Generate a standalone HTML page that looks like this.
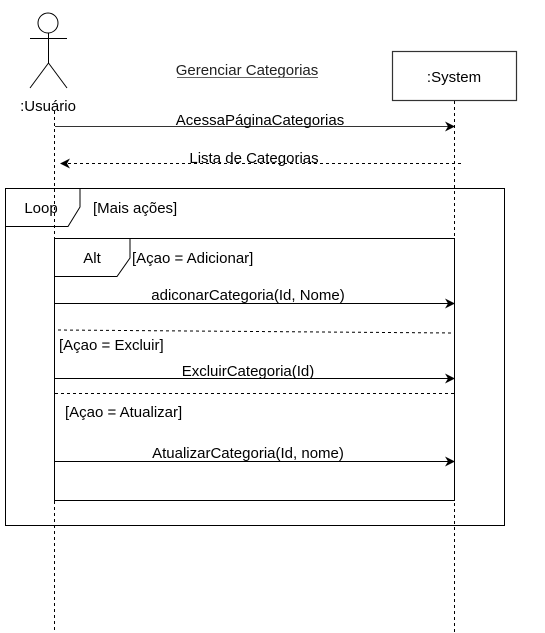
<!DOCTYPE html>
<html><head><meta charset="utf-8"><style>
html,body{margin:0;padding:0;background:#fff;}
svg{display:block;font-family:"Liberation Sans",Arial,sans-serif;font-size:15px;}
</style></head><body>
<svg width="545" height="633" viewBox="0 0 545 633" xmlns="http://www.w3.org/2000/svg">
<defs>
<marker id="a" markerWidth="10" markerHeight="10" refX="9" refY="5" orient="auto" markerUnits="userSpaceOnUse">
<path d="M0,0 L10,5 L0,10 L3,5 Z" fill="#000"/></marker>
</defs>
<rect width="545" height="633" fill="#fff"/>
<g stroke="#000" stroke-width="1" fill="none">
<circle cx="48" cy="23" r="10"/>
<line x1="30" y1="38.5" x2="67" y2="38.5"/>
<line x1="48.5" y1="33" x2="48.5" y2="63"/>
<line x1="48.5" y1="63" x2="30" y2="88"/>
<line x1="48.5" y1="63" x2="67" y2="88"/>
</g>
<text x="48" y="111" text-anchor="middle">:Usuário</text>
<text x="247" y="75" text-anchor="middle" fill="#222">Gerenciar Categorias</text>
<line x1="177" y1="77.5" x2="318" y2="77.5" stroke="#666" stroke-width="1"/>
<rect x="392.5" y="51.5" width="124" height="49" fill="#fff" stroke="#333" stroke-width="1.2"/>
<text x="454" y="82" text-anchor="middle">:System</text>
<line x1="54.5" y1="111" x2="54.5" y2="633" stroke="#000" stroke-dasharray="3,3"/>
<line x1="454.5" y1="101" x2="454.5" y2="633" stroke="#000" stroke-dasharray="3,3"/>
<line x1="55" y1="126.5" x2="454" y2="126.5" stroke="#333" marker-end="url(#a)"/>
<text x="260" y="125" text-anchor="middle">AcessaPáginaCategorias</text>
<line x1="461" y1="163.5" x2="61" y2="163.5" stroke="#000" stroke-dasharray="3,3" marker-end="url(#a)"/>
<text x="254" y="163" text-anchor="middle">Lista de Categorias</text>
<rect x="5.5" y="188.5" width="499" height="337" fill="none" stroke="#000"/>
<path d="M5.5,226.5 L68,226.5 L80,207 L80,188.5" fill="none" stroke="#000"/>
<text x="41" y="213" text-anchor="middle">Loop</text>
<text x="93" y="213">[Mais ações]</text>
<rect x="54.5" y="238.5" width="400" height="262" fill="none" stroke="#000"/>
<path d="M54.5,276.5 L117,276.5 L130,258 L130,238.5" fill="none" stroke="#000"/>
<text x="92" y="263" text-anchor="middle">Alt</text>
<text x="132" y="263">[Açao = Adicionar]</text>
<line x1="55" y1="303.5" x2="454" y2="303.5" stroke="#000" marker-end="url(#a)"/>
<text x="248" y="300" text-anchor="middle">adiconarCategoria(Id, Nome)</text>
<line x1="58" y1="330" x2="454" y2="333" stroke="#000" stroke-dasharray="3,3"/>
<text x="59" y="350">[Açao = Excluir]</text>
<line x1="55" y1="378.5" x2="454" y2="378.5" stroke="#000" marker-end="url(#a)"/>
<text x="248" y="376" text-anchor="middle">ExcluirCategoria(Id)</text>
<line x1="55" y1="393.5" x2="454" y2="393.5" stroke="#000" stroke-dasharray="3,3"/>
<text x="65" y="417">[Açao = Atualizar]</text>
<line x1="55" y1="461.5" x2="454" y2="461.5" stroke="#000" marker-end="url(#a)"/>
<text x="248" y="458" text-anchor="middle">AtualizarCategoria(Id, nome)</text>
</svg>
</body></html>
